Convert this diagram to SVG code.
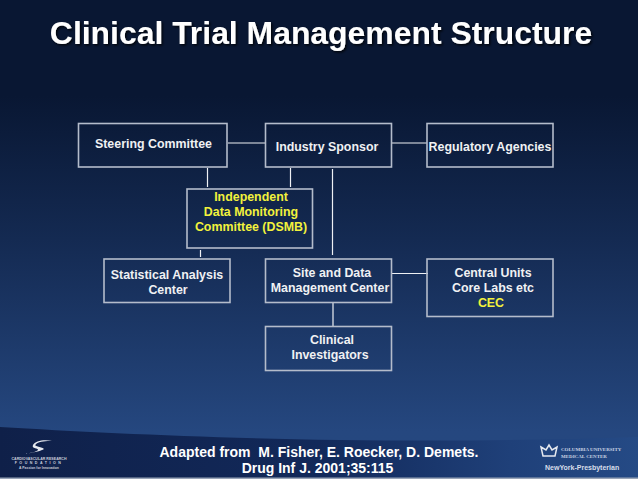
<svg xmlns="http://www.w3.org/2000/svg" width="638" height="479" viewBox="0 0 638 479">
<style>
.box{fill:none;stroke:#b4bccb;stroke-width:1.6}
.wire{fill:none;stroke:#eef0f4;stroke-width:1.2}
text{font-family:"Liberation Sans",Arial,sans-serif;font-weight:bold;text-anchor:middle}
.l{font-size:12.400px;fill:#f0f1f3}
.y{font-size:12.400px;fill:#f2f23c}
.f{font-size:14px;fill:#fff;white-space:pre}
</style>
<defs>
<linearGradient id="bg" x1="0" y1="0" x2="0" y2="1">
<stop offset="0" stop-color="#091733"/><stop offset="0.2" stop-color="#091733"/><stop offset="0.5" stop-color="#142a52"/><stop offset="0.9" stop-color="#25477f"/><stop offset="1" stop-color="#25487f"/>
</linearGradient>
<linearGradient id="sw" x1="0" y1="0" x2="1" y2="0">
<stop offset="0" stop-color="#0f2049"/><stop offset="0.5" stop-color="#12295a"/><stop offset="0.8" stop-color="#1f4079"/><stop offset="1" stop-color="#254a85"/>
</linearGradient>
<filter id="sh" x="-5%" y="-20%" width="110%" height="140%"><feDropShadow dx="1.500" dy="1.500" stdDeviation="0.800" flood-color="#000" flood-opacity="0.800"/></filter>
</defs>
<g id="background">
<rect width="638" height="479" fill="url(#bg)"/>
<path d="M0 427C150 436 380 446 638 437V478H0Z" fill="url(#sw)"/>
<rect y="477.500" width="638" height="1.500" fill="#9aa5b8"/>
</g>
<text id="title" x="321" y="44" font-size="31.900" fill="#fff" filter="url(#sh)">Clinical Trial Management Structure</text>
<g id="connectors">
<path class="wire" d="M228 143H265"/>
<path class="wire" d="M207.500 168V187"/>
<path class="wire" d="M290.500 168V187"/>
<path class="wire" d="M332.500 169V255"/>
<path class="wire" d="M392 143H427"/>
<path class="wire" d="M200.500 250V257"/>
<path class="wire" d="M392 273.500H428"/>
<path class="wire" d="M333 303V326"/>
</g>
<g id="steering-committee"><rect class="box" x="78.500" y="123.500" width="148.500" height="43.500"/><text class="l" x="153.500" y="148">Steering Committee</text></g>
<g id="industry-sponsor"><rect class="box" x="265.500" y="123.500" width="126" height="43.500"/><text class="l" x="327" y="151">Industry Sponsor</text></g>
<g id="regulatory-agencies"><rect class="box" x="427" y="123.500" width="126" height="43.500"/><text class="l" x="490" y="151">Regulatory Agencies</text></g>
<g id="dsmb"><rect class="box" x="187" y="189" width="125.500" height="59"/><text class="y" x="251" y="201">Independent</text><text class="y" x="251" y="216">Data Monitoring</text><text class="y" x="251" y="231">Committee (DSMB)</text></g>
<g id="statistical-analysis-center"><rect class="box" x="104" y="259" width="126" height="43.500"/><text class="l" x="167" y="279">Statistical Analysis</text><text class="l" x="168" y="294">Center</text></g>
<g id="site-data-management-center"><rect class="box" x="265.500" y="259" width="126" height="43.500"/><text class="l" x="332" y="277">Site and Data</text><text class="l" x="330" y="292">Management Center</text></g>
<g id="central-units"><rect class="box" x="427" y="259" width="126" height="57.500"/><text class="l" x="493" y="277">Central Units</text><text class="l" x="493" y="292">Core Labs etc</text><text class="y" x="491" y="307">CEC</text></g>
<g id="clinical-investigators"><rect class="box" x="265.500" y="326.500" width="126" height="44"/><text class="l" x="332" y="344">Clinical</text><text class="l" x="330" y="359">Investigators</text></g>
<g id="footnote"><text class="f" x="319" y="457">Adapted from  M. Fisher, E. Roecker, D. Demets.</text><text class="f" x="317.500" y="473">Drug Inf J. 2001;35:115</text></g>
<g id="logo-left">
<path d="M25 454C36 452 41 451 44 449C41 446 33 447 36 444C40 441 46 441 52 441C44 439 35 441 33 445C31 449 39 448 38 450C36 452 30 453 25 454Z" fill="#e6e9ef"/>
<text x="39" y="460" font-size="3.600" fill="#c9cfdb">CARDIOVASCULAR RESEARCH</text>
<text x="39" y="464" font-size="3.600" fill="#c9cfdb" letter-spacing="2.500">FOUNDATION</text>
<text x="39" y="469" font-size="3.400" fill="#c9cfdb">A Passion for Innovation</text>
</g>
<g id="logo-right">
<path d="M541 447L546 450L549 445L552 450L557 447L555 456H543Z" fill="none" stroke="#e6e9ef" stroke-width="1.500"/>
<text x="561" y="451" font-size="5" fill="#c9d2e2" style="text-anchor:start;font-family:'Liberation Serif',serif">COLUMBIA UNIVERSITY</text>
<text x="561" y="458" font-size="5" fill="#c9d2e2" style="text-anchor:start;font-family:'Liberation Serif',serif">MEDICAL CENTER</text>
<text x="545" y="470" font-size="7" fill="#d7deea" style="text-anchor:start">NewYork-Presbyterian</text>
</g>
</svg>
